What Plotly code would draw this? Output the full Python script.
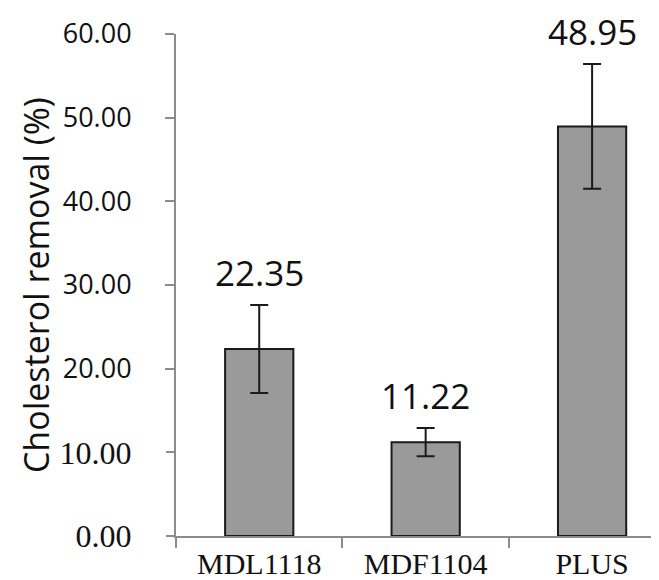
import plotly.graph_objects as go

categories = ["MDL1118", "MDF1104", "PLUS"]
values = [22.35, 11.22, 48.95]
errors = [5.25, 1.7, 7.45]
label_texts = ["22.35", "11.22", "48.95"]
sans_tick_vals = [20, 30, 40, 50, 60]
sans_tick_labels = ["20.00", "30.00", "40.00", "50.00", "60.00"]
serif_tick_vals = [0, 10]
serif_tick_labels = ["0.00", "10.00"]

SANS = "Open Sans"
SERIF = "Liberation Serif"

fig = go.Figure()
fig.add_trace(go.Bar(
    x=categories, y=values, width=0.41,
    marker=dict(color="#9a9a9a", line=dict(color="#1a1a1a", width=2)),
    error_y=dict(type="data", array=errors, visible=True, color="#1a1a1a", thickness=2, width=9),
    showlegend=False,
))

for c, v, e, t in zip(categories, values, errors, label_texts):
    fig.add_annotation(x=c, y=v + e, text=t, showarrow=False, yanchor="bottom",
                       yshift=7, font=dict(family=SANS, size=35, color="#111111"))

fig.add_annotation(xref="paper", yref="paper", x=-0.285, y=0.5, text="Cholesterol removal (%)",
                   textangle=-90, showarrow=False, xanchor="center", yanchor="middle",
                   font=dict(family=SANS, size=34, color="#111111"))

fig.update_layout(
    width=659, height=580,
    margin=dict(l=168, r=0, t=26, b=52),
    paper_bgcolor="white", plot_bgcolor="white",
    bargap=0.59,
    yaxis2=dict(overlaying="y", side="left", range=[0, 60], tickmode="array",
                tickvals=serif_tick_vals, ticktext=serif_tick_labels,
                ticks="outside", ticklen=9, tickcolor="#8c8c8c", tickwidth=2,
                tickfont=dict(family=SERIF, size=32, color="#111111"),
                showgrid=False, zeroline=False, showline=False, ticklabelstandoff=28),
)
fig.update_xaxes(
    range=[-0.5, 2.45], showline=True, linecolor="#8c8c8c", linewidth=2,
    ticks="outside", tickson="boundaries", ticklen=10, tickcolor="#8c8c8c", tickwidth=2,
    tickfont=dict(family=SERIF, size=30, color="#111111"), showgrid=False,
)
fig.update_yaxes(
    selector=dict(overlaying=None),
    range=[0, 60], tickmode="array", tickvals=sans_tick_vals, ticktext=sans_tick_labels,
    showline=True, linecolor="#8c8c8c", linewidth=2, ticks="outside", ticklen=9,
    tickcolor="#8c8c8c", tickwidth=2, tickfont=dict(family=SANS, size=27, color="#111111"),
    showgrid=False, zeroline=False, ticklabelstandoff=28,
)
fig.add_trace(go.Scatter(x=[categories[0]], y=[values[0]], yaxis="y2", mode="markers",
                         marker=dict(opacity=0), showlegend=False, hoverinfo="skip"))

fig.write_html("out.html")
